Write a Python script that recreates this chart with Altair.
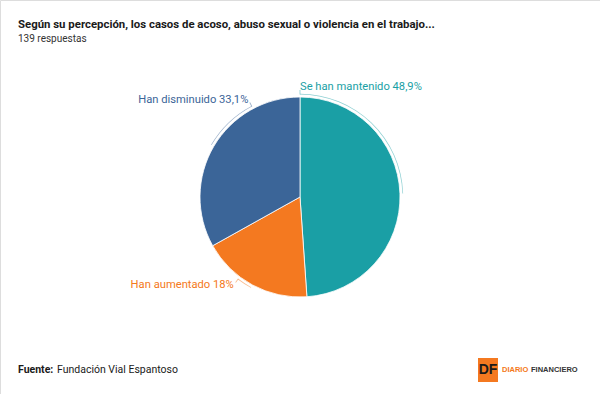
import math
import altair as alt
import pandas as pd

# ---- data ----
categories = ["Se han mantenido", "Han aumentado", "Han disminuido"]
values = [48.9, 18.0, 33.1]
pct_labels = ["48,9%", "18%", "33,1%"]
colors = ["#1a9fa5", "#f47920", "#3b6598"]
label_colors = ["#2a9ea6", "#e9843c", "#58789f"]
leader_end_deg = [0.0, 217.0, 332.0]   # where each label leader ends
label_align = ["left", "right", "right"]

title = "Según su percepción, los casos de acoso, abuso sexual o violencia en el trabajo..."
subtitle = "139 respuestas"
source_bold = "Fuente:"
source_text = "Fundación Vial Espantoso"

FONT = "Roboto, sans-serif"
CX, CY, R = 300, 197, 100

# ---- derived tables ----
total = sum(values)
rows = []
cum = 0.0
for i, (c, v) in enumerate(zip(categories, values)):
    start = cum / total * 360
    cum += v
    end = cum / total * 360
    mid = (start + end) / 2
    a, b = sorted([mid, leader_end_deg[i]])
    rows.append(dict(cat=c, value=v, order=i, label=f"{c} {pct_labels[i]}",
                     lstart=math.radians(a), lend=math.radians(b),
                     tick0=math.radians(leader_end_deg[i]) - 0.004,
                     tick1=math.radians(leader_end_deg[i]) + 0.004,
                     tpos=math.radians(leader_end_deg[i]),
                     align=label_align[i]))
df = pd.DataFrame(rows)

color_scale = alt.Scale(domain=categories, range=colors)
lab_scale = alt.Scale(domain=categories, range=label_colors)

base = alt.Chart(df)

pie = base.mark_arc(radius=R, stroke="#ffffff", strokeWidth=0.8).encode(
    theta=alt.Theta("value:Q", stack=True),
    order=alt.Order("order:Q"),
    color=alt.Color("cat:N", scale=color_scale, legend=None),
    x=alt.value(CX), y=alt.value(CY),
)

leaders = base.mark_arc(radius=R + 2.5, radius2=R + 3.2, opacity=0.5).encode(
    theta=alt.Theta("lstart:Q", scale=None),
    theta2="lend:Q",
    color=alt.Color("cat:N", scale=lab_scale, legend=None),
    x=alt.value(CX), y=alt.value(CY),
)

ticks = base.mark_arc(radius=R + 2.5, radius2=R + 7, opacity=0.5).encode(
    theta=alt.Theta("tick0:Q", scale=None),
    theta2="tick1:Q",
    color=alt.Color("cat:N", scale=lab_scale, legend=None),
    x=alt.value(CX), y=alt.value(CY),
)

def label_layer(al):
    return base.transform_filter(alt.datum.align == al).mark_text(
        radius=R + 10, align=al, baseline="middle", font=FONT, fontSize=11.2
    ).encode(
        theta=alt.Theta("tpos:Q", scale=None),
        text="label:N",
        color=alt.Color("cat:N", scale=lab_scale, legend=None),
        x=alt.value(CX), y=alt.value(CY),
    )

labels = label_layer("left") + label_layer("right")

one = pd.DataFrame({"k": [0]})
tbase = alt.Chart(one)

title_t = tbase.mark_text(align="left", baseline="alphabetic", font=FONT, fontSize=11.4,
                          fontWeight="bold", color="#1a1a1a").encode(
    x=alt.value(18), y=alt.value(28), text=alt.value(title))
sub_t = tbase.mark_text(align="left", baseline="alphabetic", font=FONT, fontSize=10,
                        color="#333333").encode(
    x=alt.value(18), y=alt.value(42), text=alt.value(subtitle))
src_b = tbase.mark_text(align="left", baseline="middle", font=FONT, fontSize=10.5,
                        fontWeight="bold", color="#1a1a1a").encode(
    x=alt.value(18), y=alt.value(370), text=alt.value(source_bold))
src_t = tbase.mark_text(align="left", baseline="middle", font=FONT, fontSize=10.5,
                        color="#1a1a1a").encode(
    x=alt.value(57), y=alt.value(370), text=alt.value(source_text))

logo_box = tbase.mark_rect(color="#f47920").encode(
    x=alt.value(478), x2=alt.value(498), y=alt.value(358), y2=alt.value(382))
logo_df = tbase.mark_text(align="center", baseline="middle", font="Liberation Sans",
                          fontSize=14, fontWeight="bold", color="#1a1a1a").encode(
    x=alt.value(488), y=alt.value(370), text=alt.value("DF"))
logo_d = tbase.mark_text(align="left", baseline="middle", font="Liberation Sans",
                         fontSize=7.5, fontWeight="bold", color="#f47920").encode(
    x=alt.value(502), y=alt.value(370), text=alt.value("DIARIO"))
logo_f = tbase.mark_text(align="left", baseline="middle", font="Liberation Sans",
                         fontSize=7.5, fontWeight="bold", color="#333333").encode(
    x=alt.value(531), y=alt.value(370), text=alt.value("FINANCIERO"))

chart = alt.layer(
    pie, leaders, ticks, labels,
    title_t, sub_t, src_b, src_t, logo_box, logo_df, logo_d, logo_f
).properties(
    width=600, height=394, padding=0,
    autosize=alt.AutoSizeParams(type="none"),
).configure_view(stroke=None).configure(background="#ffffff")

chart.save("out.html", embed_options={"renderer": "svg", "actions": False})
